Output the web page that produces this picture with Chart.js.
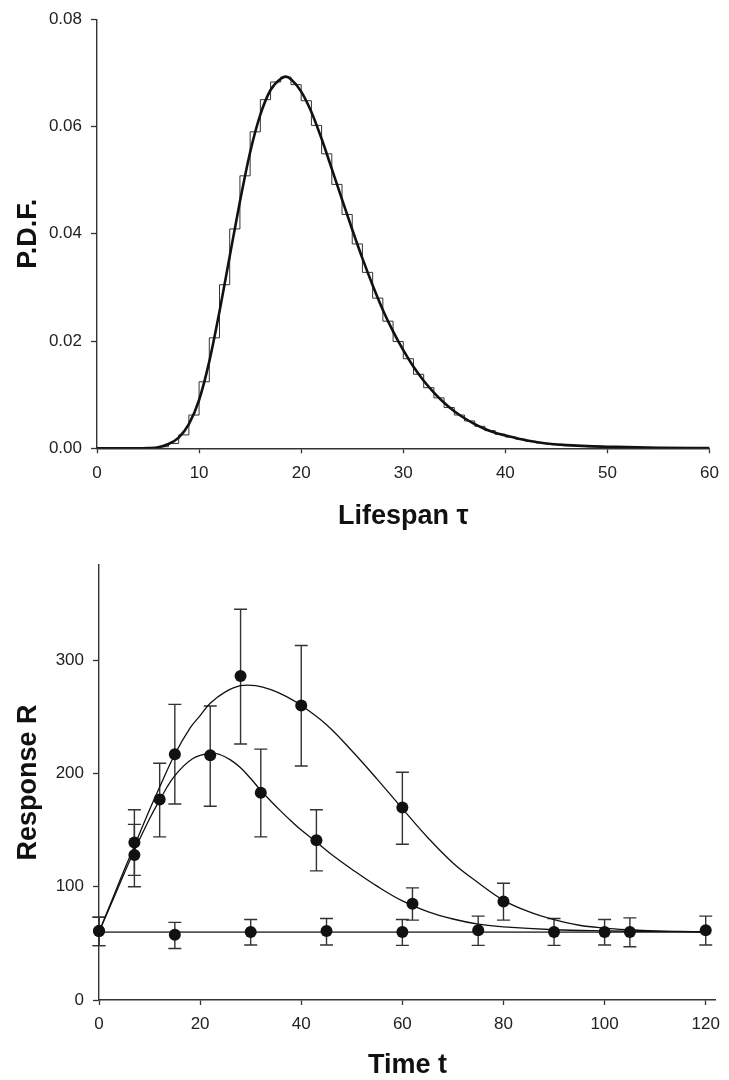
<!DOCTYPE html>
<html>
<head>
<meta charset="utf-8">
<script src="https://cdn.jsdelivr.net/npm/chart.js@4.4.1/dist/chart.umd.min.js"></script>
<style>
  html, body { margin: 0; padding: 0; background: #fff; }
  canvas { display: block; }
</style>
</head>
<body>
<canvas id="pdfChart" width="729" height="540"></canvas>
<canvas id="respChart" width="729" height="540"></canvas>
<script>
// ---- lifespan distribution ----
// histogram heights for unit bins [k, k+1), k = 0..59
const histHeights = [
  0, 0, 0, 0, 0, 0.0001, 0.0003, 0.0009, 0.0025, 0.0062,
  0.0124, 0.0206, 0.0305, 0.0409, 0.0508, 0.0590, 0.0650, 0.0683, 0.0692, 0.0678,
  0.0648, 0.0602, 0.0549, 0.0492, 0.0436, 0.0381, 0.0328, 0.0280, 0.0237, 0.0199,
  0.0167, 0.0138, 0.0113, 0.0094, 0.0076, 0.0062, 0.0051, 0.0041, 0.0033, 0.0026,
  0.0021, 0.0017, 0.0013, 0.0010, 0.0008, 0.0006, 0.0005, 0.0004, 0.0003, 0.0003,
  0.0002, 0.0002, 0.0001, 0.0001, 0.0001, 0.0001, 0.0001, 0, 0, 0
];
// smooth density
const pdfTau = [0, 4, 5, 6, 7, 8, 9, 10, 11, 12, 13, 14, 15, 16, 17, 18, 18.5, 19, 20,
  21, 22, 23, 24, 25, 26, 27, 28, 29, 30, 31, 32, 33, 34, 35, 36, 37, 38, 39, 40,
  42, 44, 46, 48, 50, 55, 60];
const pdfVal = [0, 0, 0.00005, 0.0002, 0.0008, 0.0020, 0.0045, 0.0090, 0.0162, 0.0255,
  0.0358, 0.0460, 0.0552, 0.0622, 0.0668, 0.0689, 0.0693, 0.0688, 0.0665,
  0.0627, 0.0577, 0.0521, 0.0464, 0.0408, 0.0354, 0.0304, 0.0258, 0.0218, 0.0183,
  0.0152, 0.0126, 0.0104, 0.0085, 0.0069, 0.0056, 0.0045, 0.0036, 0.0029, 0.0024,
  0.0015, 0.0009, 0.0006, 0.0004, 0.0003, 0.0001, 0.00005];
const pdfTicksX = [0, 10, 20, 30, 40, 50, 60];
const pdfTicksY = [0, 0.02, 0.04, 0.06, 0.08];

// ---- response over time ----
const slowT   = [0, 7, 15, 28, 40, 60, 80, 100, 120];
const slowR   = [61, 139, 217, 286, 260, 170, 87, 60, 61.5];
const slowLo  = [48, 110, 173, 226, 206.5, 137.5, 70.5, 48.5, 48.5];
const slowHi  = [73, 168, 261, 345, 313, 201, 103, 71, 74];

const fastT   = [0, 7, 12, 22, 32, 43, 62];
const fastR   = [61, 128, 177, 216, 183, 141, 85];
const fastLo  = [48, 100, 144, 171, 144, 114, 70.5];
const fastHi  = [73, 155, 209, 259.5, 221.5, 168, 99];

const ctrlT   = [15, 30, 45, 60, 75, 90, 105];
const ctrlR   = [57.5, 60, 61, 60, 61.5, 60, 60];
const ctrlLo  = [45.5, 48.5, 48.5, 48.2, 48.2, 48.2, 47];
const ctrlHi  = [68.5, 71, 72, 71, 74, 72, 72.5];

// fitted curves
const slowFitT = [0, 3, 5, 7, 10, 12, 15, 18, 20, 22, 25, 28, 31, 34, 37, 40, 45, 50,
  55, 60, 65, 70, 75, 80, 85, 90, 95, 100, 105, 110, 115, 120];
const slowFitR = [60, 93, 115, 136, 168, 188, 217, 240, 251, 262, 272, 277.5, 277.5,
  274, 268, 260, 243, 220, 195, 169, 143.5, 121, 103.5, 88, 78, 71, 66, 63.5, 62, 61,
  60.5, 60];
const fastFitT = [0, 3, 5, 7, 10, 12, 15, 18.5, 22, 24, 26, 28, 30, 32, 34, 36, 38, 40,
  43, 46, 50, 55, 60, 65, 70, 75, 80, 90, 100, 110, 120];
const fastFitR = [60, 91, 112, 132, 160, 176.5, 198, 213, 218, 216.5, 212, 205, 195.5,
  185, 175.5, 166.5, 158, 150, 139.5, 128.5, 115.5, 100.5, 87.5, 78, 71.5, 67, 64.5,
  62, 61, 60.5, 60.3];
const baseFitT = [0, 120];
const baseFitR = [60, 60];

const respTicksX = [0, 20, 40, 60, 80, 100, 120];
const respTicksY = [0, 100, 200, 300];

const pts = (xs, ys) => xs.map((x, i) => ({ x, y: ys[i] }));

Chart.defaults.font.family = '"Liberation Sans", Arial, Helvetica, sans-serif';
Chart.defaults.color = '#222';

// vertical error bars with caps, drawn under the markers
const errorBars = {
  id: 'errorBars',
  beforeDatasetsDraw(chart) {
    const { ctx, scales: { x, y } } = chart;
    ctx.save();
    ctx.strokeStyle = '#333';
    ctx.lineWidth = 1.4;
    chart.data.datasets.forEach(ds => {
      if (!ds.errLow) return;
      ds.data.forEach((p, i) => {
        const px = x.getPixelForValue(p.x);
        const lo = y.getPixelForValue(ds.errLow[i]);
        const hi = y.getPixelForValue(ds.errHigh[i]);
        ctx.beginPath();
        ctx.moveTo(px, lo); ctx.lineTo(px, hi);
        ctx.moveTo(px - 6.5, lo); ctx.lineTo(px + 6.5, lo);
        ctx.moveTo(px - 6.5, hi); ctx.lineTo(px + 6.5, hi);
        ctx.stroke();
      });
    });
    ctx.restore();
  }
};

function axis(opts) {
  return {
    type: 'linear',
    min: opts.min,
    max: opts.max,
    afterBuildTicks: s => { s.ticks = opts.ticks.map(v => ({ value: v })); },
    afterFit: opts.fit,
    border: { display: true, color: '#333', width: 1.4 },
    grid: { display: true, drawOnChartArea: false, drawTicks: true, tickLength: opts.tickLength, color: '#333', tickWidth: 1.3 },
    ticks: { padding: opts.padding, font: { size: 17 }, color: '#222', callback: opts.format },
    title: {
      display: true, text: opts.title, color: '#111',
      font: { size: 27, weight: 'bold', lineHeight: 1 },
      padding: opts.titlePad
    }
  };
}

// Lifespan distribution
const binEdges = histHeights.map((_, i) => i).concat([60]);
const histPts = binEdges.map((x, i) => ({ x, y: histHeights[Math.min(i, histHeights.length - 1)] }));

new Chart(document.getElementById('pdfChart'), {
  type: 'scatter',
  data: {
    datasets: [
      { data: pts(pdfTau, pdfVal), showLine: true, borderColor: '#111', borderWidth: 2.6,
        pointRadius: 0, cubicInterpolationMode: 'monotone', order: 0 },
      { data: histPts, showLine: true, stepped: 'before', borderColor: '#333', borderWidth: 1,
        pointRadius: 0, order: 1 }
    ]
  },
  options: {
    responsive: false, animation: false,
    layout: { padding: { top: 13, right: 10, left: 0, bottom: 0 } },
    plugins: { legend: { display: false }, tooltip: { enabled: false } },
    scales: {
      x: axis({ min: 0, max: 60, ticks: pdfTicksX, tickLength: 5, padding: 10,
        fit: s => { s.height = 91.7; }, title: 'Lifespan τ',
        titlePad: { top: 0, bottom: 9.5 }, format: v => String(v) }),
      y: axis({ min: 0, max: 0.08, ticks: pdfTicksY, tickLength: 6, padding: 9,
        fit: s => { s.width = 97; }, title: 'P.D.F.',
        titlePad: { top: 15.5, bottom: 0 }, format: v => v.toFixed(2) })
    }
  }
});

// Response over time
const fitLine = (xs, ys, color, width) => ({
  data: pts(xs, ys), showLine: true, borderColor: color, borderWidth: width,
  pointRadius: 0, tension: 0.4, order: 2
});
const observed = (xs, ys, lo, hi) => ({
  data: pts(xs, ys), showLine: false, pointRadius: 6, pointHoverRadius: 6,
  pointBackgroundColor: '#111', pointBorderColor: '#111', pointBorderWidth: 0,
  errLow: lo, errHigh: hi, clip: false, order: 0
});

new Chart(document.getElementById('respChart'), {
  type: 'scatter',
  data: {
    datasets: [
      observed(slowT, slowR, slowLo, slowHi),
      observed(fastT, fastR, fastLo, fastHi),
      observed(ctrlT, ctrlR, ctrlLo, ctrlHi),
      fitLine(slowFitT, slowFitR, '#111', 1.3),
      fitLine(fastFitT, fastFitR, '#111', 1.3),
      fitLine(baseFitT, baseFitR, '#555', 1.8)
    ]
  },
  options: {
    responsive: false, animation: false,
    layout: { padding: { top: 25, right: 6, left: 0, bottom: 0 } },
    plugins: { legend: { display: false }, tooltip: { enabled: false } },
    scales: {
      x: axis({ min: 0, max: 122, ticks: respTicksX, tickLength: 5, padding: 9,
        fit: s => { s.height = 80; }, title: 'Time t',
        titlePad: { top: 0, bottom: 0.5 }, format: v => String(v) }),
      y: axis({ min: 0, max: 384, ticks: respTicksY, tickLength: 6, padding: 9,
        fit: s => { s.width = 99; }, title: 'Response R',
        titlePad: { top: 15.5, bottom: 0 }, format: v => String(v) })
    }
  },
  plugins: [errorBars]
});
</script>
</body>
</html>
